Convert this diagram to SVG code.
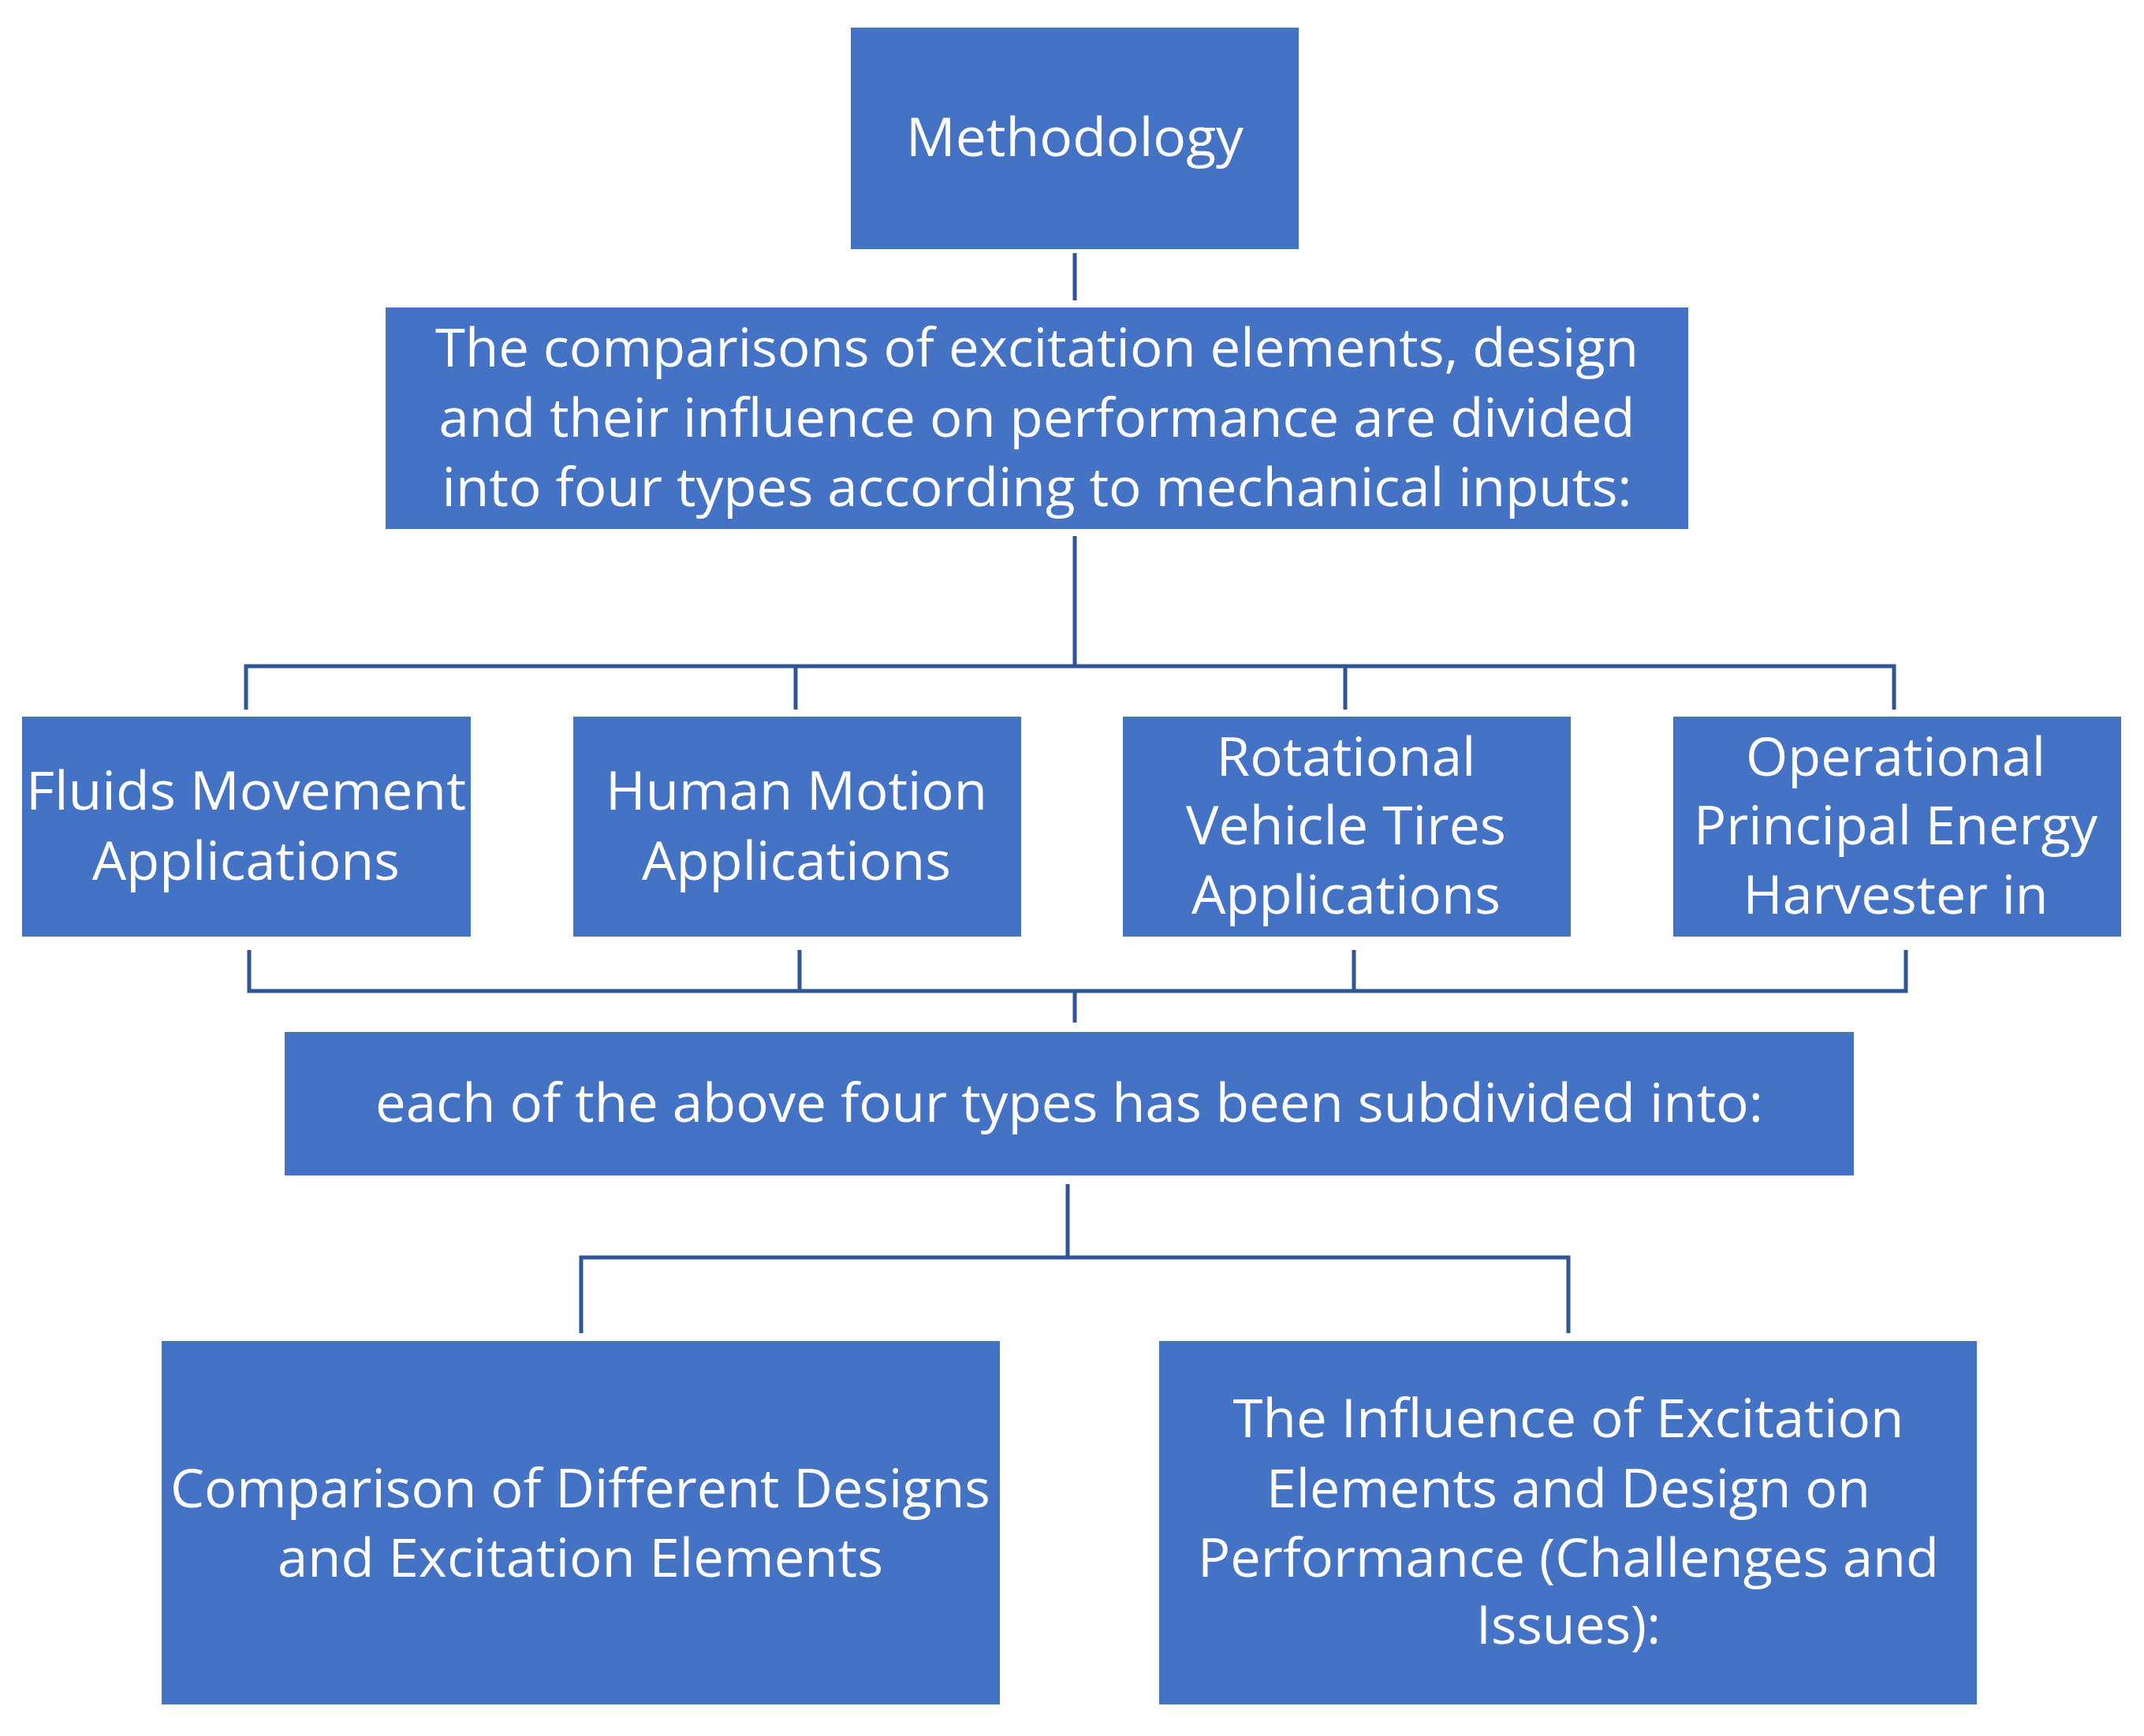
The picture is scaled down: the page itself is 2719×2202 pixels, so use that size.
<svg xmlns="http://www.w3.org/2000/svg" width="2719" height="2202" viewBox="0 0 2719 2202">
<style>
.b{fill:#4472c4}
.t{fill:#fff;font-family:"Open Sans","Liberation Sans",sans-serif;font-size:68px;text-anchor:middle}
.c{stroke:#2f5597;stroke-width:5;fill:none}
</style>
<rect width="2719" height="2202" fill="#fff"/>
<g id="connectors" class="c">
<path d="M1363 321V381"/>
<path d="M1363 680V845M312 900V845H2402V900M1009 845V900M1706 845V900"/>
<path d="M316 1205V1257H2417V1205M1014 1205V1257M1717 1205V1257M1363 1257V1297"/>
<path d="M1354 1502V1595M737 1691V1595H1989V1691"/>
</g>
<g id="methodology"><rect class="b" x="1079" y="35" width="568" height="281"/>
<text class="t" x="1363" y="198" textLength="428" lengthAdjust="spacingAndGlyphs">Methodology</text></g>
<g id="comparisons"><rect class="b" x="489" y="390" width="1652" height="281"/>
<text class="t" x="1315" y="465" textLength="1526" lengthAdjust="spacingAndGlyphs">The comparisons of excitation elements, design</text>
<text class="t" x="1315" y="554" textLength="1517" lengthAdjust="spacingAndGlyphs">and their influence on performance are divided</text>
<text class="t" x="1315" y="642" textLength="1509" lengthAdjust="spacingAndGlyphs">into four types according to mechanical inputs:</text></g>
<g id="fluids"><rect class="b" x="28" y="909" width="569" height="279"/>
<text class="t" x="312" y="1027" textLength="558" lengthAdjust="spacingAndGlyphs">Fluids Movement</text>
<text class="t" x="312" y="1116" textLength="390" lengthAdjust="spacingAndGlyphs">Applications</text></g>
<g id="human"><rect class="b" x="727" y="909" width="568" height="279"/>
<text class="t" x="1010" y="1027" textLength="484" lengthAdjust="spacingAndGlyphs">Human Motion</text>
<text class="t" x="1010" y="1116" textLength="392" lengthAdjust="spacingAndGlyphs">Applications</text></g>
<g id="rotational"><rect class="b" x="1424" y="909" width="568" height="279"/>
<text class="t" x="1707" y="984" textLength="329" lengthAdjust="spacingAndGlyphs">Rotational</text>
<text class="t" x="1707" y="1071" textLength="406" lengthAdjust="spacingAndGlyphs">Vehicle Tires</text>
<text class="t" x="1707" y="1159" textLength="392" lengthAdjust="spacingAndGlyphs">Applications</text></g>
<g id="operational"><rect class="b" x="2122" y="909" width="568" height="279"/>
<text class="t" x="2404" y="984" textLength="380" lengthAdjust="spacingAndGlyphs">Operational</text>
<text class="t" x="2404" y="1071" textLength="512" lengthAdjust="spacingAndGlyphs">Principal Energy</text>
<text class="t" x="2404" y="1159" textLength="387" lengthAdjust="spacingAndGlyphs">Harvester in</text></g>
<g id="subdivided"><rect class="b" x="361" y="1309" width="1990" height="182"/>
<text class="t" x="1356" y="1423" textLength="1760" lengthAdjust="spacingAndGlyphs">each of the above four types has been subdivided into:</text></g>
<g id="designs"><rect class="b" x="205" y="1701" width="1063" height="461"/>
<text class="t" x="736" y="1912" textLength="1040" lengthAdjust="spacingAndGlyphs">Comparison of Different Designs</text>
<text class="t" x="736" y="2000" textLength="768" lengthAdjust="spacingAndGlyphs">and Excitation Elements</text></g>
<g id="influence"><rect class="b" x="1470" y="1701" width="1037" height="461"/>
<text class="t" x="1989" y="1823" textLength="851" lengthAdjust="spacingAndGlyphs">The Influence of Excitation</text>
<text class="t" x="1989" y="1912" textLength="766" lengthAdjust="spacingAndGlyphs">Elements and Design on</text>
<text class="t" x="1989" y="2000" textLength="940" lengthAdjust="spacingAndGlyphs">Performance (Challenges and</text>
<text class="t" x="1989" y="2085" textLength="234" lengthAdjust="spacingAndGlyphs">Issues):</text></g>
</svg>
